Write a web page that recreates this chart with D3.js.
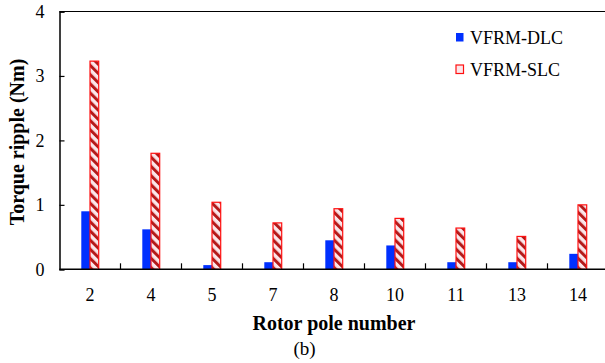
<!DOCTYPE html>
<html>
<head>
<meta charset="utf-8">
<script src="https://cdn.jsdelivr.net/npm/d3@7"></script>
<style>
  html, body { margin: 0; padding: 0; background: #fff; }
  svg { display: block; }
</style>
</head>
<body>
<svg id="chart" width="605" height="363"></svg>
<script>
// Rotor pole numbers and torque ripple (Nm) of the two machine types
const categories = ["2", "4", "5", "7", "8", "10", "11", "13", "14"];
const seriesNames = ["VFRM-DLC", "VFRM-SLC"];
const dlcValues = [0.90, 0.62, 0.065, 0.11, 0.45, 0.37, 0.11, 0.11, 0.24];
const slcValues = [3.23, 1.80, 1.04, 0.72, 0.94, 0.79, 0.64, 0.51, 1.00];
const yTicks = [0, 1, 2, 3, 4];

const FONT = "'Liberation Serif', 'DejaVu Serif', serif";
const svg = d3.select("#chart");
const plotLeft = 59.5, plotTop = 11.5, zeroY = 269.3, catW = 61;
const plotRight = plotLeft + catW * categories.length;

const x = d3.scaleBand().domain(categories).range([plotLeft, plotRight]).padding(0);
const xSub = d3.scaleBand().domain(seriesNames)
  .range([catW / 2 - 8.7, catW / 2 + 8.7]).padding(0);
const y = d3.scaleLinear().domain([0, 4]).range([zeroY, plotTop]);

// hatch pattern for the single-layer-coil bars
const defs = svg.append("defs");
const pat = defs.append("pattern")
  .attr("id", "hatch").attr("patternUnits", "userSpaceOnUse")
  .attr("width", 6.5).attr("height", 6.5)
  .attr("patternTransform", "rotate(-45)");
pat.append("rect").attr("width", 6.5).attr("height", 6.5).attr("fill", "#fbe6ea");
pat.append("rect").attr("x", 0).attr("width", 3).attr("height", 6.5).attr("fill", "#b41a1a");

const rows = categories.map((c, i) => ({ cat: c, vals: [dlcValues[i], slcValues[i]] }));

// bars
const groups = svg.append("g").selectAll("g").data(rows).join("g")
  .attr("transform", d => `translate(${x(d.cat)},0)`);
groups.selectAll("rect").data(d => d.vals.map((v, k) => ({ name: seriesNames[k], v })))
  .join("rect")
  .attr("x", d => xSub(d.name))
  .attr("width", xSub.bandwidth())
  .attr("y", d => y(d.v))
  .attr("height", d => zeroY - y(d.v))
  .attr("fill", d => d.name === "VFRM-DLC" ? "#0030ff" : "url(#hatch)")
  .attr("stroke", d => d.name === "VFRM-DLC" ? "none" : "#ff1010")
  .attr("stroke-width", 1.2);

// y axis (ticks pointing inward)
const yAxis = d3.axisLeft(y).tickValues(yTicks).tickSize(-5).tickPadding(12)
  .tickFormat(d3.format("d"));
const gy = svg.append("g").attr("transform", `translate(${plotLeft},0)`).call(yAxis)
  .attr("font-family", FONT).attr("font-size", 18);
gy.select(".domain").attr("stroke", "#000").attr("stroke-width", 1.5);
gy.selectAll(".tick line").attr("stroke", "#000").attr("stroke-width", 1.2);
gy.selectAll(".tick text").attr("x", -15).attr("fill", "#000");

// x axis: ticks on category boundaries, pointing up
svg.append("line").attr("x1", plotLeft).attr("x2", 605).attr("y1", zeroY).attr("y2", zeroY)
  .attr("stroke", "#000").attr("stroke-width", 1.5);
svg.append("g").selectAll("line").data(categories.slice(1)).join("line")
  .attr("x1", d => x(d)).attr("x2", d => x(d))
  .attr("y1", zeroY).attr("y2", zeroY - 6)
  .attr("stroke", "#000").attr("stroke-width", 1.2);
svg.append("g").attr("font-family", FONT).attr("font-size", 18)
  .selectAll("text").data(categories).join("text")
  .attr("x", d => x(d) + catW / 2).attr("y", 300.5)
  .attr("text-anchor", "middle").text(d => d);

// top frame line
svg.append("line").attr("x1", plotLeft).attr("x2", 605).attr("y1", plotTop).attr("y2", plotTop)
  .attr("stroke", "#000").attr("stroke-width", 1.2);

// axis titles
svg.append("text").attr("x", 334).attr("y", 329.5).attr("text-anchor", "middle")
  .attr("font-family", FONT).attr("font-size", 20).attr("font-weight", "bold")
  .text("Rotor pole number");
svg.append("text").attr("transform", "translate(24,142) rotate(-90)")
  .attr("text-anchor", "middle").attr("font-family", FONT).attr("font-size", 20)
  .attr("font-weight", "bold").text("Torque ripple (Nm)");
svg.append("text").attr("x", 304.5).attr("y", 355).attr("text-anchor", "middle")
  .attr("font-family", FONT).attr("font-size", 19).text("(b)");

// legend
const legend = svg.append("g").selectAll("g").data(seriesNames).join("g")
  .attr("transform", (d, i) => `translate(456,${33 + i * 32})`);
legend.append("rect").attr("width", 7.5).attr("height", 8.5)
  .attr("fill", d => d === "VFRM-DLC" ? "#0030ff" : "#fbe6ea")
  .attr("stroke", d => d === "VFRM-DLC" ? "none" : "#ff1010").attr("stroke-width", 1.2);
legend.append("text").attr("x", 14).attr("y", 11)
  .attr("font-family", FONT).attr("font-size", 18).text(d => d);
</script>
</body>
</html>
